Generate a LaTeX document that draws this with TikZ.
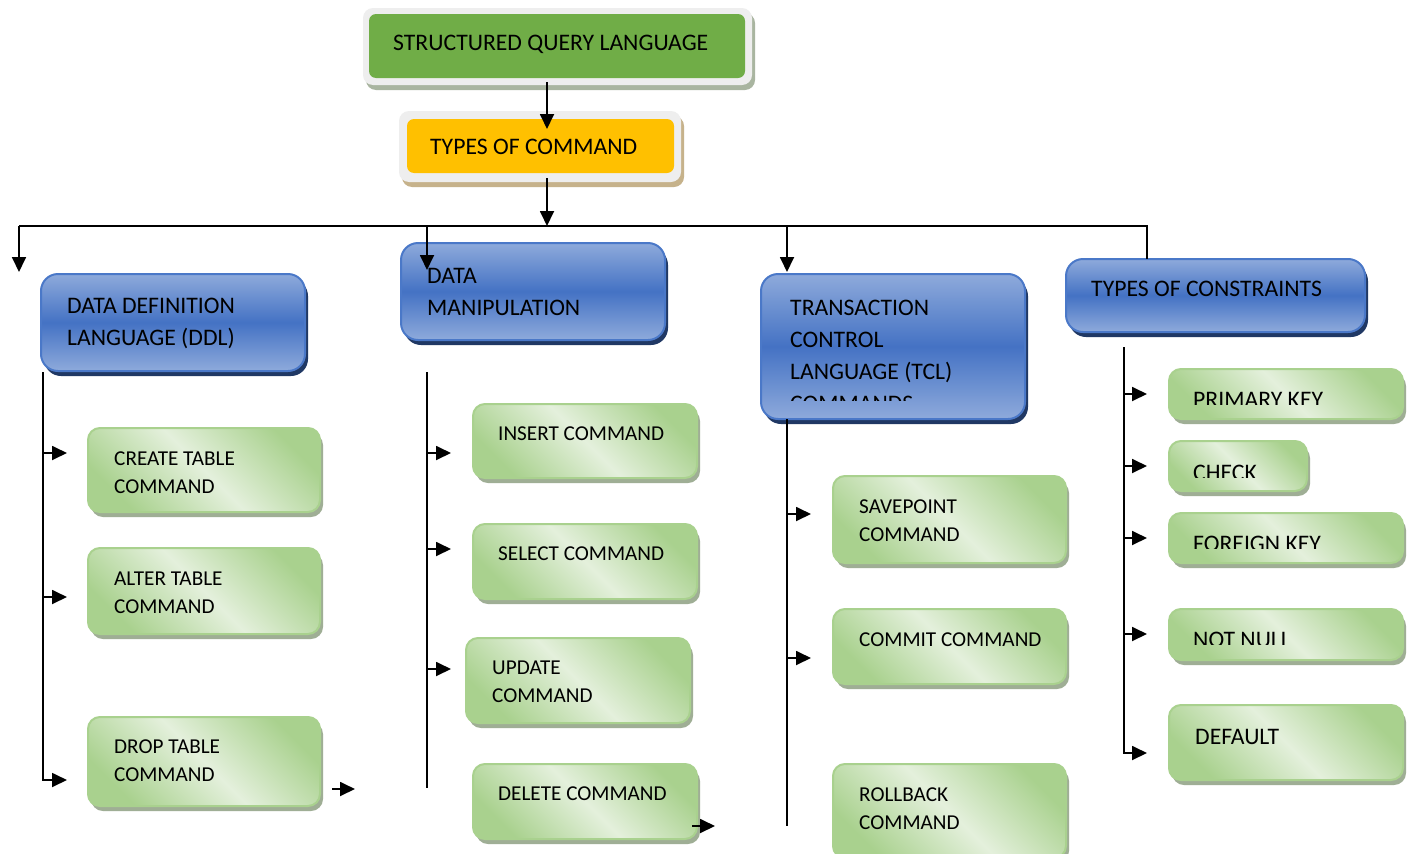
\documentclass[tikz,border=0pt]{standalone}
\usepackage{fontspec}
\setmainfont{Carlito}
\usetikzlibrary{arrows.meta,shadows}
\definecolor{gdark}{HTML}{A9D18E}
\definecolor{glight}{HTML}{E4F0DC}
\definecolor{gborder}{HTML}{A9D18E}
\definecolor{gshadow}{HTML}{9FAE95}
\definecolor{blight}{HTML}{8EAADB}
\definecolor{bmid}{HTML}{4472C4}
\definecolor{bborder}{HTML}{4A78C8}
\definecolor{bshadow}{HTML}{203864}
\definecolor{ogray}{HTML}{EEEEEE}
\definecolor{sqlgreen}{HTML}{70AD47}
\definecolor{sqlshadow}{HTML}{A9B5A0}
\definecolor{typeorange}{HTML}{FFC000}
\definecolor{typeshadow}{HTML}{C6B28B}
\newcommand\mybox[6]{\node[#1, minimum width={(#5-#3)*1pt}, minimum height={(#6-#4)*1pt}] (#2) at ({(#3+#5)/2},{(#4+#6)/2}) {};}
\begin{document}
\begin{tikzpicture}[x=1pt,y=-1pt,
  box/.style={rectangle, inner sep=0pt, outer sep=0pt},
  gbox/.style={box, rounded corners=12pt, draw=gborder, line width=2pt,
    left color=gdark, right color=gdark, middle color=glight, shading angle=135,
    general shadow={fill=gshadow, shadow xshift=3pt, shadow yshift=-5pt}},
  bbox/.style={box, rounded corners=17pt, draw=bborder, line width=2pt,
    top color=blight, bottom color=blight, middle color=bmid,
    general shadow={fill=bshadow, shadow xshift=3pt, shadow yshift=-5pt}},
  sqlouter/.style={box, rounded corners=10pt, fill=ogray,
    general shadow={fill=sqlshadow, shadow xshift=3pt, shadow yshift=-5pt}},
  typeouter/.style={box, rounded corners=10pt, fill=ogray,
    general shadow={fill=typeshadow, shadow xshift=3pt, shadow yshift=-5pt}},
  sqlinner/.style={box, rounded corners=7pt, fill=sqlgreen},
  typeinner/.style={box, rounded corners=7pt, fill=typeorange},
  txtL/.style={inner sep=0pt, anchor=base west, align=left, font=\fontsize{23.7}{32}\selectfont},
  txtS/.style={inner sep=0pt, anchor=base west, align=left, font=\fontsize{21.2}{28}\selectfont},
  ln/.style={line width=1.8pt},
  arr/.style={line width=1.8pt, -{Triangle[length=15pt,width=14pt]}}
]
\useasboundingbox (0,0) rectangle (1411,854);
\fill[white] (0,0) rectangle (1411,854);

% top boxes
\mybox{sqlouter}{sqlO}{363}{8}{752}{85}
\mybox{sqlinner}{sqlI}{369}{14}{745}{78}
\node[txtL] (sqlT) at (393,50) {STRUCTURED QUERY LANGUAGE};
\mybox{typeouter}{typO}{399}{111}{681}{182}
\mybox{typeinner}{typI}{407}{119}{674}{173}
\node[txtL] (typT) at (430,154) {TYPES OF COMMAND};

% blue boxes (multi-line nodes: base = last line)
\mybox{bbox}{ddl}{41}{274}{305}{371}
\node[txtL] (ddlT) at (67,345) {DATA DEFINITION\\LANGUAGE (DDL)};
\mybox{bbox}{dml}{401}{243}{665}{340}
\node[txtL] (dmlT) at (427,315) {DATA\\MANIPULATION};
\mybox{bbox}{tcl}{761}{274}{1025}{419}
\begin{scope}
  \clip (765,280) rectangle (1020,400);
  \node[txtL] (tclT) at (790,411) {TRANSACTION\\CONTROL\\LANGUAGE (TCL)\\COMMANDS};
\end{scope}
\mybox{bbox}{cons}{1066}{259}{1365}{332}
\node[txtL] (consT) at (1091,296) {TYPES OF CONSTRAINTS};

% DDL children
\mybox{gbox}{create}{88}{428}{320}{512}
\node[txtS] (createT) at (114,493) {CREATE TABLE\\COMMAND};
\mybox{gbox}{alter}{88}{548}{320}{634}
\node[txtS] (alterT) at (114,613) {ALTER TABLE\\COMMAND};
\mybox{gbox}{drop}{88}{717}{320}{806}
\node[txtS] (dropT) at (114,781) {DROP TABLE\\COMMAND};

% DML children
\mybox{gbox}{insert}{473}{404}{697}{478}
\node[txtS] (insertT) at (498,440) {INSERT COMMAND};
\mybox{gbox}{select}{473}{524}{697}{599}
\node[txtS] (selectT) at (498,560) {SELECT COMMAND};
\mybox{gbox}{update}{466}{638}{690}{723}
\node[txtS] (updateT) at (492,702) {UPDATE\\COMMAND};
\mybox{gbox}{delete}{473}{764}{697}{839}
\node[txtS] (deleteT) at (498,800) {DELETE COMMAND};

% TCL children
\mybox{gbox}{savep}{833}{476}{1066}{563}
\node[txtS] (savepT) at (859,541) {SAVEPOINT\\COMMAND};
\mybox{gbox}{commit}{833}{609}{1066}{684}
\node[txtS] (commitT) at (859,646) {COMMIT COMMAND};
\mybox{gbox}{rollb}{833}{764}{1066}{858}
\node[txtS] (rollbT) at (859,829) {ROLLBACK\\COMMAND};

% constraint children
\mybox{gbox}{prim}{1169}{369}{1403}{419}
\begin{scope}\clip (1180,380) rectangle (1400,404);
  \node[txtL] (primT) at (1193,407) {PRIMARY KEY};\end{scope}
\mybox{gbox}{check}{1169}{441}{1307}{491}
\begin{scope}\clip (1180,450) rectangle (1300,477);
  \node[txtL] (checkT) at (1193,480) {CHECK};\end{scope}
\mybox{gbox}{foreign}{1169}{513}{1403}{563}
\begin{scope}\clip (1180,522) rectangle (1400,548);
  \node[txtL] (foreignT) at (1193,551) {FOREIGN KEY};\end{scope}
\mybox{gbox}{notnull}{1169}{609}{1403}{660}
\begin{scope}\clip (1180,618) rectangle (1400,644);
  \node[txtL] (notnullT) at (1193,647) {NOT NULL};\end{scope}
\mybox{gbox}{default}{1169}{705}{1403}{780}
\node[txtL] (defaultT) at (1195,744) {DEFAULT};

% connector points
\coordinate (s1) at (547,82);   \coordinate (s2) at (547,129);
\coordinate (t1) at (547,178);  \coordinate (t2) at (547,226);
\coordinate (bL) at (19,226);   \coordinate (bR) at (1147,226);
\coordinate (bA) at (19,272);   \coordinate (bB1) at (427,226);
\coordinate (bB) at (427,270);  \coordinate (bC1) at (787,226);
\coordinate (bC) at (787,272);  \coordinate (bD) at (1147,259);
% DDL trunk
\coordinate (d0) at (43,372);
\coordinate (d1) at (43,453); \coordinate (d1e) at (67,453);
\coordinate (d2) at (43,597); \coordinate (d2e) at (67,597);
\coordinate (d3e) at (67,780);
\coordinate (x1) at (332,789); \coordinate (x1e) at (355,789);
% DML trunk
\coordinate (m0) at (427,372); \coordinate (m9) at (427,788);
\coordinate (m1) at (427,453); \coordinate (m1e) at (451,453);
\coordinate (m2) at (427,549); \coordinate (m2e) at (451,549);
\coordinate (m3) at (427,669); \coordinate (m3e) at (451,669);
\coordinate (x2) at (692,826); \coordinate (x2e) at (715,826);
% TCL trunk
\coordinate (c0) at (787,419); \coordinate (c9) at (787,826);
\coordinate (c1) at (787,514); \coordinate (c1e) at (811,514);
\coordinate (c2) at (787,658); \coordinate (c2e) at (811,658);
% constraints trunk
\coordinate (k0) at (1124,347);
\coordinate (k1) at (1124,394); \coordinate (k1e) at (1147,394);
\coordinate (k2) at (1124,466); \coordinate (k2e) at (1147,466);
\coordinate (k3) at (1124,538); \coordinate (k3e) at (1147,538);
\coordinate (k4) at (1124,634); \coordinate (k4e) at (1147,634);
\coordinate (k5e) at (1147,753);

% connectors
\draw[arr] (s1) -- (s2);
\draw[arr] (t1) -- (t2);
\draw[ln] (bL) -- (bR) -- (bD);
\draw[arr] (bL) -- (bA);
\draw[arr] (bB1) -- (bB);
\draw[arr] (bC1) -- (bC);

\draw[arr] (d0) |- (d3e);
\draw[arr] (d1) -- (d1e);
\draw[arr] (d2) -- (d2e);
\draw[arr] (x1) -- (x1e);

\draw[ln] (m0) -- (m9);
\draw[arr] (m1) -- (m1e);
\draw[arr] (m2) -- (m2e);
\draw[arr] (m3) -- (m3e);
\draw[arr] (x2) -- (x2e);

\draw[ln] (c0) -- (c9);
\draw[arr] (c1) -- (c1e);
\draw[arr] (c2) -- (c2e);

\draw[arr] (k0) |- (k5e);
\draw[arr] (k1) -- (k1e);
\draw[arr] (k2) -- (k2e);
\draw[arr] (k3) -- (k3e);
\draw[arr] (k4) -- (k4e);
\end{tikzpicture}
\end{document}
